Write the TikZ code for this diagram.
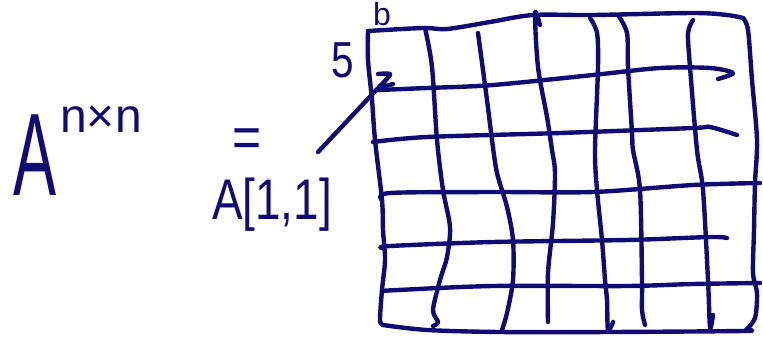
\documentclass[tikz,border=0pt]{standalone}
\usepackage{fontspec}
\setmainfont{Liberation Sans}
\definecolor{ink}{RGB}{20,10,115}
\begin{document}
\begin{tikzpicture}[x=0.75pt,y=-0.75pt,
  hand/.style={draw=ink, line width=3.3pt, line cap=round, line join=round},
  txt/.style={text=ink, inner sep=0pt, anchor=center}]
\useasboundingbox (0,0) rectangle (763,337);

% labels
\node[txt, font=\fontsize{88}{88}\selectfont, xscale=0.55] (Abig) at (35,155) {A};
\node[txt, font=\fontsize{36}{36}\selectfont] (nxn) at (101,119) {n×n};
\node[txt, font=\fontsize{44}{44}\selectfont, xscale=0.85] (eq) at (247,143) {=};
\node[txt, font=\fontsize{43}{43}\selectfont, xscale=0.8] (A11) at (272,205) {A[1,1]};
\node[txt, font=\fontsize{24}{24}\selectfont] (lb) at (382,14) {b};
\node[txt, font=\fontsize{38}{38}\selectfont, xscale=0.8] (l5) at (343,60) {5};

% outer border
\draw[hand] plot[smooth, tension=0.5] coordinates {(368,31) (423,28) (447,29) (490,22) (533,15) (593,15) (693,13) (727,15) (743,18)};
\draw[hand] plot[smooth, tension=0.5] coordinates {(743,18) (748,30) (752,80) (757,140) (755,183) (754,230) (753,273) (757,293) (755,318) (746,330)};
\draw[hand] plot[smooth, tension=0.5] coordinates {(746,330) (743,331) (610,332) (500,332) (427,330) (383,325)};
\draw[hand] plot[smooth, tension=0.5] coordinates {(383,325) (380,320) (382,290) (385,260) (383,230) (382,200) (375,140) (372,100) (368,60) (368,31)};

% horizontal lines
\draw[hand] plot[smooth, tension=0.5] coordinates {(378,90) (427,88) (493,85) (593,75) (660,68) (710,68) (733,73) (718,79)};
\draw[hand] plot[smooth, tension=0.5] coordinates {(373,142) (427,137) (560,133) (693,128) (710,127) (737,135)};
\draw[hand] plot[smooth, tension=0.5] coordinates {(382,200) (390,193) (493,192) (593,192) (693,185) (760,183)};
\draw[hand] plot[smooth, tension=0.5] coordinates {(382,248) (390,246) (493,242) (627,240) (710,237) (727,238)};
\draw[hand] plot[smooth, tension=0.5] coordinates {(382,291) (398,290) (493,286) (627,286) (693,284) (760,283)};

% vertical lines
\draw[hand] plot[smooth, tension=0.5] coordinates {(425,28) (432,67) (437,140) (443,190) (450,227) (447,257) (440,280) (433,310) (438,322) (433,326)};
\draw[hand] plot[smooth, tension=0.5] coordinates {(478,33) (487,100) (492,140) (497,173) (507,207) (513,240) (513,280) (507,313) (502,330)};
\draw[hand] plot[smooth, tension=0.5] coordinates {(540,25) (535,13) (538,67) (547,117) (552,150) (555,173) (553,223) (548,273) (548,322)};
\draw[hand] plot[smooth, tension=0.5] coordinates {(590,18) (597,33) (598,67) (595,150) (597,190) (602,240) (605,280) (607,300) (608,330) (613,322)};
\draw[hand] plot[smooth, tension=0.5] coordinates {(618,15) (627,33) (628,67) (632,133) (633,150) (640,190) (642,280) (642,310) (645,325)};
\draw[hand] plot[smooth, tension=0.5] coordinates {(693,20) (688,33) (690,67) (697,150) (703,190) (708,280) (710,327) (713,315)};

% arrow from A[1,1] to the first cell
\coordinate (as) at (318,152);
\coordinate (ae) at (380,86);
\draw[hand] (as) -- (ae);
\draw[hand] plot[smooth, tension=0.5] coordinates {(378,74) (390,74) (384,82) (380,87) (393,84)};
\end{tikzpicture}
\end{document}
